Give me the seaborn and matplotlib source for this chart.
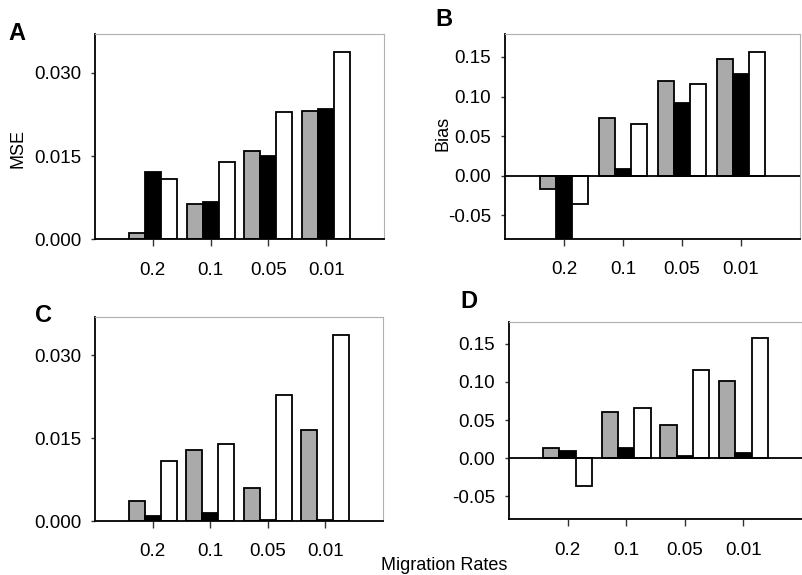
import matplotlib
matplotlib.use('Agg')
import matplotlib.pyplot as plt
import pandas as pd
import seaborn as sns

# ---- data ----
rates = ['0.2', '0.1', '0.05', '0.01']
methods = ['grey', 'black', 'white']

mse_a_grey = [0.0012, 0.0063, 0.0160, 0.0232]
mse_a_black = [0.0121, 0.0068, 0.0151, 0.0235]
mse_a_white = [0.0109, 0.0139, 0.0229, 0.0337]

bias_b_grey = [-0.017, 0.073, 0.119, 0.147]
bias_b_black = [-0.085, 0.008, 0.092, 0.129]
bias_b_white = [-0.036, 0.065, 0.116, 0.156]

mse_c_grey = [0.0037, 0.0128, 0.0059, 0.0165]
mse_c_black = [0.0009, 0.0015, 0.0002, 0.0001]
mse_c_white = [0.0109, 0.0139, 0.0229, 0.0337]

bias_d_grey = [0.014, 0.061, 0.044, 0.101]
bias_d_black = [0.010, 0.013, 0.0026, 0.0074]
bias_d_white = [-0.037, 0.066, 0.116, 0.157]

mse_ticks = [0.0, 0.015, 0.030]
mse_ticklabels = ['0.000', '0.015', '0.030']
bias_ticks = [-0.05, 0.0, 0.05, 0.10, 0.15]
bias_ticklabels = ['-0.05', '0.00', '0.05', '0.10', '0.15']

sns.set_style('ticks')
plt.rcParams['font.family'] = ['Liberation Sans', 'DejaVu Sans']
plt.rcParams['text.color'] = 'black'
plt.rcParams['axes.labelcolor'] = 'black'
plt.rcParams['xtick.color'] = 'black'
plt.rcParams['ytick.color'] = 'black'

palette = {'grey': '#aaaaaa', 'black': '#000000', 'white': '#ffffff'}


def make_df(g, b, w):
    rows = []
    for m, vals in zip(methods, [g, b, w]):
        for r, v in zip(rates, vals):
            rows.append({'rate': r, 'method': m, 'value': v})
    return pd.DataFrame(rows)


fig = plt.figure(figsize=(8.02, 5.75), dpi=100)
W, H = 802.0, 575.0


def axes_px(left, right, top, bottom):
    return fig.add_axes([left / W, 1 - bottom / H, (right - left) / W, (bottom - top) / H])


axA = axes_px(95, 384, 34, 239.3)
axB = axes_px(505, 800, 34, 239)
axC = axes_px(95, 383, 316.7, 521)
axD = axes_px(509, 802, 321.7, 519.3)

panels = [
    (axA, make_df(mse_a_grey, mse_a_black, mse_a_white), 'mse'),
    (axB, make_df(bias_b_grey, bias_b_black, bias_b_white), 'bias'),
    (axC, make_df(mse_c_grey, mse_c_black, mse_c_white), 'mse'),
    (axD, make_df(bias_d_grey, bias_d_black, bias_d_white), 'bias'),
]

for ax, df, kind in panels:
    sns.barplot(data=df, x='rate', y='value', hue='method', order=rates,
                hue_order=methods, palette=palette, saturation=1,
                edgecolor='black', linewidth=1.3, width=0.83,
                legend=False, ax=ax, errorbar=None)
    ax.set_xlim(-1, 4)
    if kind == 'mse':
        ax.set_ylim(0, 0.037)
        ax.set_yticks(mse_ticks)
        ax.set_yticklabels(mse_ticklabels)
    else:
        ax.set_ylim(-0.08, 0.179)
        ax.set_yticks(bias_ticks)
        ax.set_yticklabels(bias_ticklabels)
        ax.axhline(0, color='black', lw=1.3, zorder=3)
    ax.set_xlabel('')
    ax.set_ylabel('')
    ax.tick_params(axis='both', labelsize=13.5, direction='out', width=1,
                   color='#333333', labelcolor='black')
    ax.tick_params(axis='y', length=3, pad=7)
    ax.tick_params(axis='x', length=5, pad=11)
    for s in ['left', 'bottom']:
        ax.spines[s].set_color('black')
        ax.spines[s].set_linewidth(1.3)
    for s in ['top', 'right']:
        ax.spines[s].set_color('#b0b0b0')
        ax.spines[s].set_linewidth(0.8)
    ax.set_facecolor('white')

# panel letters
fig.text(8 / W, 1 - 33 / H, 'A', fontsize=17, fontweight='bold', va='center', ha='left')
fig.text(435 / W, 1 - 20 / H, 'B', fontsize=17, fontweight='bold', va='center', ha='left')
fig.text(35 / W, 1 - 316 / H, 'C', fontsize=17, fontweight='bold', va='center', ha='left')
fig.text(460 / W, 1 - 302 / H, 'D', fontsize=17, fontweight='bold', va='center', ha='left')

# axis labels
fig.text(18 / W, 1 - 148 / H, 'MSE', fontsize=13, rotation=90, va='center', ha='center')
fig.text(443 / W, 1 - 133 / H, 'Bias', fontsize=13, rotation=90, va='center', ha='center')
fig.text(444 / W, 1 - 565 / H, 'Migration Rates', fontsize=13, va='center', ha='center')

fig.savefig('out.png', dpi=100, facecolor='white')
